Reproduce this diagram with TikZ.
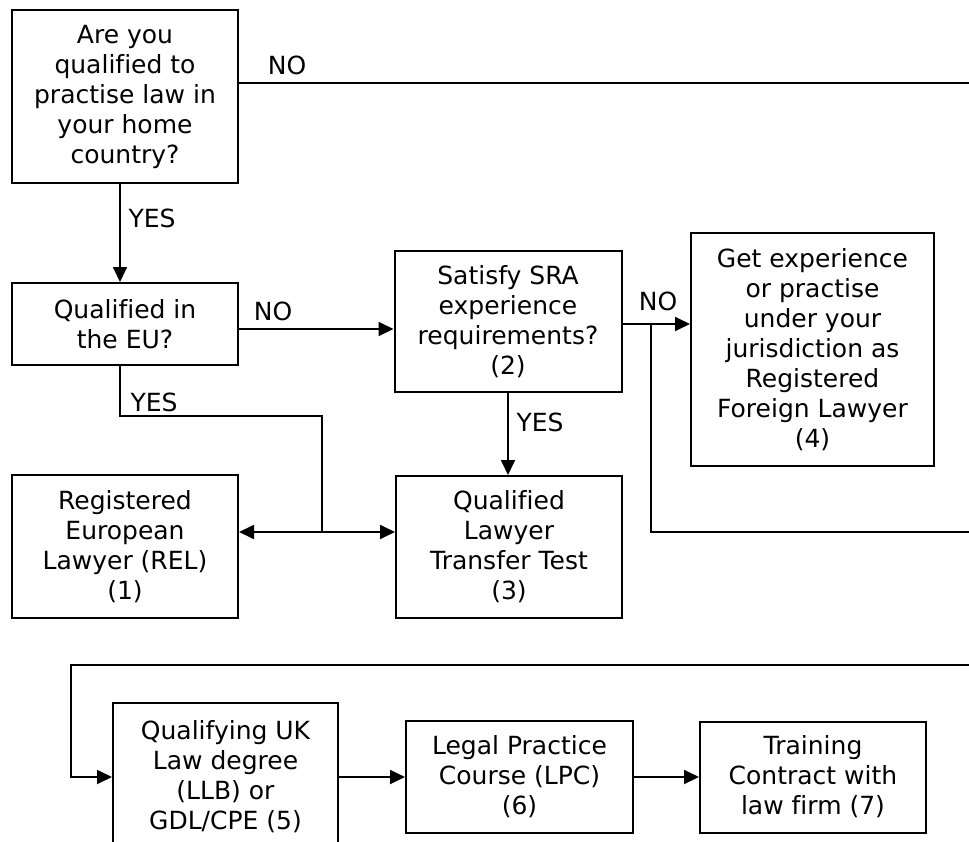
\documentclass[tikz,border=0pt]{standalone}
\usepackage{fontspec}
\setmainfont[Ligatures=NoCommon]{DejaVu Sans}
\usetikzlibrary{arrows.meta}
\tikzset{
  flowbox/.style={draw, line width=2pt, inner sep=0pt, align=center,
    font=\fontsize{25}{30}\selectfont},
  conn/.style={line width=1.8pt},
  arr/.style={conn, -{Triangle[length=15pt,width=14pt]}},
  lbl/.style={inner sep=0pt, font=\fontsize{25}{30}\selectfont}
}
\begin{document}
\begin{tikzpicture}[x=1pt,y=-1pt]
\clip (0,0) rectangle (969,841);
\fill[white] (0,0) rectangle (969,841);

\node[flowbox, minimum width=226pt, minimum height=173pt] (a) at (125,96.5)
  {Are you\\qualified to\\practise law in\\your home\\country?};
\node[flowbox, minimum width=226pt, minimum height=82pt] (b) at (125,324)
  {Qualified in\\the EU?};
\node[flowbox, minimum width=227pt, minimum height=141pt] (c) at (508,321.5)
  {Satisfy SRA\\experience\\requirements?\\(2)};
\node[flowbox, minimum width=243pt, minimum height=233pt] (d) at (812.5,349.5)
  {Get experience\\or practise\\under your\\jurisdiction as\\Registered\\Foreign Lawyer\\(4)};
\node[flowbox, minimum width=226pt, minimum height=143pt] (e) at (125,546.5)
  {Registered\\European\\Lawyer (REL)\\(1)};
\node[flowbox, minimum width=226pt, minimum height=142pt] (f) at (509,547)
  {Qualified\\Lawyer\\Transfer Test\\(3)};
\node[flowbox, minimum width=225pt, minimum height=148pt] (g) at (225.5,777)
  {Qualifying UK\\Law degree\\(LLB) or\\GDL/CPE (5)};
\node[flowbox, minimum width=227pt, minimum height=112pt] (h) at (519.5,777)
  {Legal Practice\\Course (LPC)\\(6)};
\node[flowbox, minimum width=226pt, minimum height=111pt] (i) at (813,777)
  {Training\\Contract with\\law firm (7)};

% coordinates
\coordinate (noEnd) at (969,83);
\coordinate (yesTurn) at (322,416);
\coordinate (j) at (322,532);
\coordinate (br) at (651,324);
\coordinate (brEnd) at (969,532);
\coordinate (k) at (969,665);
\coordinate (m) at (71,665);

% top NO line
\draw[conn] (a.east |- noEnd) -- (noEnd);
\node[lbl] (no1) at (287,65) {NO};
% YES down to EU
\draw[arr] ([xshift=-5pt]a.south) -- ([xshift=-5pt]b.north);
\node[lbl] (yes1) at (152,218) {YES};
% EU NO -> SRA
\draw[arr] ([yshift=-5pt]b.east) -- ([yshift=-5pt]b.east -| c.west);
\node[lbl] (no2) at (273,311) {NO};
% EU YES -> junction
\draw[conn] ([xshift=-5pt]b.south) -- ([xshift=-5pt]b.south |- yesTurn) -- (yesTurn) -- (j);
\node[lbl] (yes2) at (154,402) {YES};
\draw[arr] (j) -- (j -| e.east);
\draw[arr] (j) -- (j -| f.west);
% SRA NO -> box 4
\draw[arr] ([yshift=-2.5pt]c.east) -- ([yshift=-2.5pt]c.east -| d.west);
\node[lbl] (no3) at (658,301) {NO};
\draw[conn] (br) -- (br |- brEnd) -- (brEnd);
% SRA YES -> QLTT
\draw[arr] (c.south) -- (c.south |- f.north);
\node[lbl] (yes3) at (540,422) {YES};
% bottom row
\draw[arr] (k) -- (m) -- (m |- g.west) -- (g.west);
\draw[arr] (g.east) -- (h.west);
\draw[arr] (h.east) -- (i.west);
\end{tikzpicture}
\end{document}
